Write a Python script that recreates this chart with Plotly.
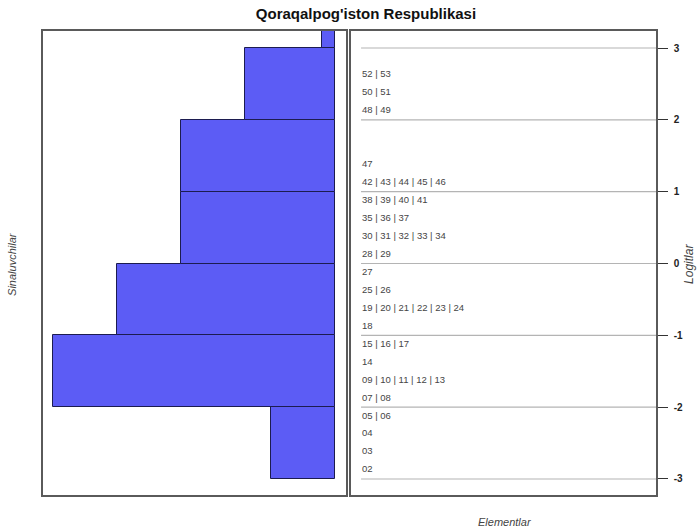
import plotly.graph_objects as go

# histogram of persons (Sinaluvchilar) per logit bin
bin_lo = [-3, -2, -1, 0, 1, 2, 3]
person_counts = [5, 22, 17, 12, 12, 7, 1]

# items (Elementlar) grouped by logit position
item_labels = ["02", "03", "04", "05 | 06", "07 | 08", "09 | 10 | 11 | 12 | 13", "14",
               "15 | 16 | 17", "18", "19 | 20 | 21 | 22 | 23 | 24", "25 | 26", "27",
               "28 | 29", "30 | 31 | 32 | 33 | 34", "35 | 36 | 37", "38 | 39 | 40 | 41",
               "42 | 43 | 44 | 45 | 46", "47", "48 | 49", "50 | 51", "52 | 53"]
item_logits = [-2.875, -2.625, -2.375, -2.125, -1.875, -1.625, -1.375, -1.125, -0.875,
               -0.625, -0.375, -0.125, 0.125, 0.375, 0.625, 0.875, 1.125, 1.375,
               2.125, 2.375, 2.625]

logit_ticks = [-3, -2, -1, 0, 1, 2, 3]
logit_ticktext = ["-3", "-2", "-1", "0", "1", "2", "3"]

FONT = "Liberation Sans, Arial, sans-serif"
yr = [-3.223, 3.237]

fig = go.Figure()

fig.add_trace(go.Bar(
    y=[b + 0.5 for b in bin_lo], x=person_counts, orientation="h", width=1,
    marker=dict(color="rgb(92,92,245)", line=dict(color="#1c1c50", width=1)),
    xaxis="x", yaxis="y", showlegend=False, hoverinfo="skip",
))

fig.add_trace(go.Scatter(
    x=[0.036] * len(item_labels), y=item_logits, mode="text", text=item_labels,
    textposition="middle right",
    textfont=dict(family=FONT, size=9.5, color="#454545"),
    xaxis="x2", yaxis="y2", showlegend=False, hoverinfo="skip",
))

for t in logit_ticks:
    fig.add_shape(type="line", xref="x2", yref="y2", x0=0.033, x1=1, y0=t, y1=t,
                  line=dict(color="#b4b4b4", width=1.2), layer="below")

border = dict(showline=True, mirror=True, linecolor="#5a5a5a", linewidth=1.5,
              showgrid=False, zeroline=False)

fig.update_layout(
    width=698, height=532,
    margin=dict(l=43, r=42, t=31, b=37),
    paper_bgcolor="white", plot_bgcolor="white",
    font=dict(family=FONT),
    bargap=0,
    title=dict(text="Qoraqalpog'iston Respublikasi", x=366 / 698, y=1 - 14 / 532,
               xanchor="center", yanchor="middle",
               font=dict(family=FONT, size=15, color="#111", weight="bold")),
    xaxis=dict(domain=[0, 0.494], range=[22.76, -0.82], showticklabels=False,
               ticks="", **border),
    yaxis=dict(range=yr, showticklabels=False, ticks="", **border),
    xaxis2=dict(domain=[0.5024, 1], range=[0, 1], anchor="y2", showticklabels=False,
                ticks="", **border),
    yaxis2=dict(range=yr, anchor="x2", side="right", tickvals=logit_ticks,
                ticktext=logit_ticktext, ticklabelstandoff=4,
                ticks="outside", ticklen=10, tickcolor="#333", tickwidth=1.2,
                tickfont=dict(family=FONT, size=10, color="#222", weight="bold"),
                **border),
    annotations=[
        dict(text="Sinaluvchilar", xref="paper", yref="paper", x=(12 - 43) / 613, y=0.498,
             xanchor="center", yanchor="middle", textangle=-90, showarrow=False,
             font=dict(family=FONT, size=11, color="#444", style="italic")),
        dict(text="Logitlar", xref="paper", yref="paper", x=(689 - 43) / 613, y=0.498,
             xanchor="center", yanchor="middle", textangle=-90, showarrow=False,
             font=dict(family=FONT, size=12, color="#444", style="italic")),
        dict(text="Elementlar", xref="paper", yref="paper", x=(505 - 43) / 613,
             y=(495 - 522) / 464, xanchor="center", yanchor="middle", showarrow=False,
             font=dict(family=FONT, size=11, color="#444", style="italic")),
    ],
)

# page body has a default margin; drop it so the figure sits at the window corner
fig.write_html("out.html", config={"displayModeBar": False},
               post_script="document.body.style.margin='0';")
